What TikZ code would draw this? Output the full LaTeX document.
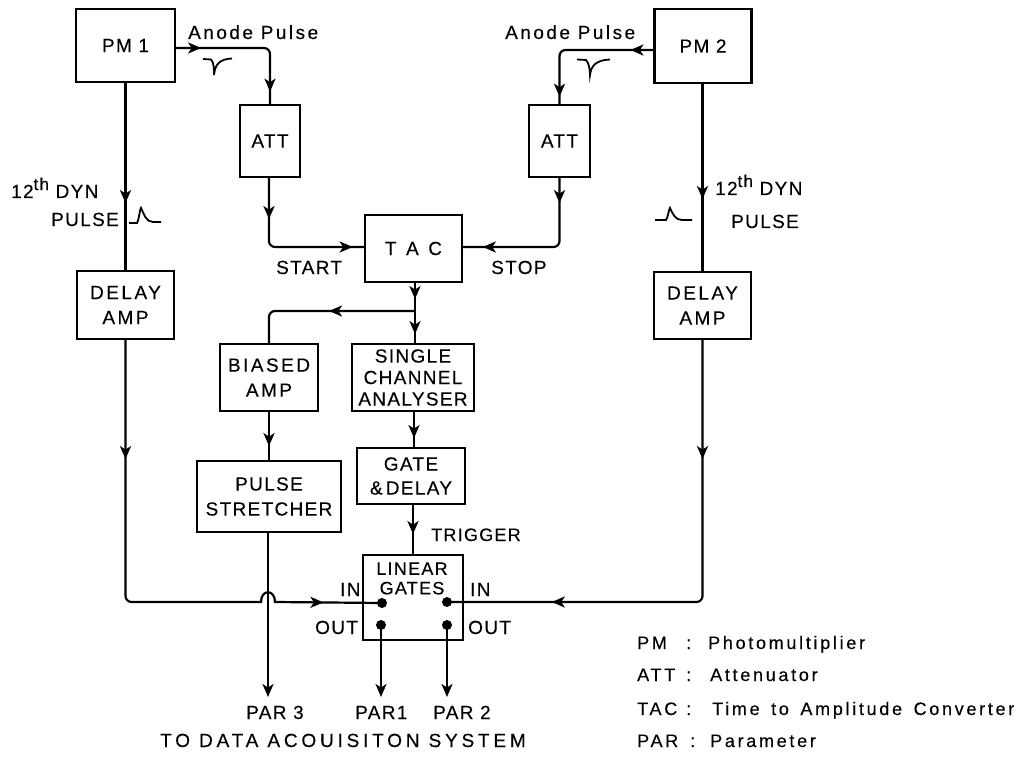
\documentclass[tikz,border=0pt]{standalone}
\usepackage{fontspec}
\setmainfont{Liberation Sans}[LetterSpace=7,FakeBold=0.25]
\newfontfamily\widefont{Liberation Sans}[LetterSpace=13,FakeBold=0.25]
\newfontfamily\xwidefont{Liberation Sans}[LetterSpace=20,FakeBold=0.25]
\newfontfamily\legendfont{Liberation Sans}[LetterSpace=15,WordSpace=1.5,FakeBold=0.25]
\usetikzlibrary{arrows.meta,decorations.markings}
\tikzset{
  x=1pt,y=-1pt,
  mytip/.tip={Stealth[length=13pt,width=11pt,inset=3.5pt]},
  box/.style={draw,line width=2.2pt,inner sep=0pt,align=center,
    font=\fontsize{19}{25}\selectfont},
  lab/.style={inner sep=0pt,anchor=base west,font=\fontsize{19}{20}\selectfont},
  leg/.style={inner sep=0pt,anchor=base west,font=\legendfont\fontsize{18}{20}\selectfont},
  wire/.style={line width=2.2pt,rounded corners=6pt},
  tipat/.style={postaction={decorate,decoration={markings,mark=at position #1 with {\arrow{mytip}}}}},
  pulse/.style={line width=1.8pt},
  dot/.style={circle,fill=black,inner sep=0pt,minimum size=10pt},
}
\begin{document}
\begin{tikzpicture}
\useasboundingbox (0,0) rectangle (1021,757);
% boxes
\node[box,minimum width=99pt,minimum height=73pt] (pm1) at (125.5,45.5) {PM 1};
\node[box,minimum width=60pt,minimum height=72pt] (att1) at (270,141) {ATT};
\node[box,minimum width=97pt,minimum height=74pt] (pm2) at (703,46) {PM 2};
\node[box,minimum width=61pt,minimum height=72pt] (att2) at (559.5,141) {ATT};
\node[box,minimum width=97pt,minimum height=67pt] (tac) at (413.5,248.5) {T\,\,\,A\,\,\,C};
\node[box,minimum width=97pt,minimum height=68pt,font=\widefont\fontsize{19}{25}\selectfont] (del1) at (125.5,305) {DELAY\\AMP};
\node[box,minimum width=97pt,minimum height=67pt,font=\widefont\fontsize{19}{25}\selectfont] (del2) at (702.5,305.5) {DELAY\\AMP};
\node[box,minimum width=98pt,minimum height=67pt,font=\widefont\fontsize{19}{25}\selectfont] (bia) at (269,377.5) {BIASED\\AMP};
\node[box,minimum width=122pt,minimum height=67pt,font=\fontsize{19}{21.5}\selectfont] (sca) at (413,377.5) {SINGLE\\CHANNEL\\ANALYSER};
\node[box,minimum width=108pt,minimum height=56pt,font=\fontsize{19}{24}\selectfont] (gate) at (411,476) {GATE\\\&\,DELAY};
\node[box,minimum width=144pt,minimum height=71pt] (str) at (269,496.5) {PULSE\\STRETCHER};
\node[box,minimum width=100pt,minimum height=85pt] (lin) at (413,597.5) {};
\node[inner sep=0pt,align=center,font=\fontsize{18}{19.5}\selectfont] (lintxt) at (412,578.5) {LINEAR\\GATES};
% dots
\node[dot] (in1) at (382,603) {};
\node[dot] (in2) at (447,602) {};
\node[dot,minimum size=10pt] (out1) at (381,625) {};
\node[dot,minimum size=10pt] (out2) at (447,625) {};
\coordinate (par3) at (268,697);
\coordinate (par1) at (381,697);
\coordinate (par2) at (447,697);
\coordinate (branch) at (415,311);
% connectors
\draw[wire,tipat=25pt,tipat=135pt] ([yshift=-2.5pt]pm1.east) -- (att1.north |- 0,48) -- (att1.north);
\draw[wire,tipat=41pt,tipat=150pt] ([xshift=-1pt]att1.south) -- (269,247) -- ([yshift=1.5pt]tac.west);
\draw[wire,tipat=23pt,tipat=138pt] ([yshift=-4pt]pm2.west) -- (att2.north |- 0,50) -- (att2.north);
\draw[wire,tipat=25pt,tipat=143pt] (att2.south) -- (559.5,247) -- ([yshift=1.5pt]tac.east);
\draw[wire,tipat=120pt] (pm1.south) -- (del1.north);
\draw[wire,tipat=115pt] ([xshift=-.5pt]pm2.south) -- (del2.north);
\draw[wire,tipat=119pt,tipat=470pt] (del1.south) -- (125.5,602) -- (255,602)
   {[sharp corners] -- (261,602) .. controls (261,589) and (275,589) .. (275,602)} -- (in1.center);
\draw[wire,tipat=119pt,tipat=410pt] (del2.south) -- (702.5,602) -- (in2.center);
\draw[wire,tipat=16pt,tipat=51pt] ([xshift=1.5pt]tac.south) -- ([xshift=2pt]sca.north);
\draw[wire,tipat=86pt] (branch) -- (bia.north |- branch) -- (bia.north);
\draw[wire,tipat=34pt] (bia.south) -- (str.north);
\draw[wire,tipat=26pt] ([xshift=1pt]sca.south) -- ([xshift=3pt]gate.north);
\draw[wire,tipat=29pt] ([xshift=2pt]gate.south) -- (lin.north);
\draw[wire,-mytip] ([xshift=-1pt]str.south) -- (par3);
\draw[wire,-mytip] (out1.center) -- (par1);
\draw[wire,-mytip] (out2.center) -- (par2);
% pulses
\draw[pulse] (203,59) -- (211,59.5) .. controls (214,62) and (214,70) .. (214,75) .. controls (215,65) and (219,59) .. (232,58.5);
\draw[pulse] (577,59.5) -- (586,60) .. controls (589,63) and (590,70) .. (590,75) .. controls (591,66) and (596,60) .. (610,59.5);
\draw[pulse] (129,223) -- (137,223) .. controls (139,220) and (140,208) .. (141,208) .. controls (144,214) and (146,222) .. (153,222) -- (161,222);
\draw[pulse] (655,220) -- (666,220) .. controls (668,218) and (669,208) .. (670,208) .. controls (673,214) and (675,220) .. (682,220) -- (692,220);
% labels
\node[lab,font=\widefont\fontsize{19}{20}\selectfont] (lbl1) at (188,39) {Anode Pulse};
\node[lab,font=\widefont\fontsize{19}{20}\selectfont] (lbl2) at (505,39) {Anode Pulse};
\node[lab] (lbl3) at (11,198) {12\raisebox{8pt}{\fontsize{17}{17}\selectfont th} DYN};
\node[lab] (lbl4) at (51,226) {PULSE};
\node[lab] (lbl5) at (715,195) {12\raisebox{8pt}{\fontsize{17}{17}\selectfont th} DYN};
\node[lab] (lbl6) at (731,228) {PULSE};
\node[lab] (lbl7) at (276,274) {START};
\node[lab] (lbl8) at (491,274) {STOP};
\node[lab,font=\fontsize{18}{20}\selectfont] (lbl9) at (431,541) {TRIGGER};
\node[lab] (lbl10) at (340,596) {IN};
\node[lab] (lbl11) at (470,596) {IN};
\node[lab] (lbl12) at (315,634) {OUT};
\node[lab] (lbl13) at (468,634) {OUT};
\node[lab] (lbl14) at (246,719) {PAR 3};
\node[lab] (lbl15) at (355,719) {PAR1};
\node[lab] (lbl16) at (433,719) {PAR 2};
\node[lab,font=\xwidefont\fontsize{19}{20}\selectfont] (lbl17) at (160,747) {TO DATA ACOUISITON SYSTEM};
% legend
\node[leg] (k1) at (637,649) {PM};
\node[leg] (k1c) at (686,649) {:};
\node[leg] (k1t) at (708,649) {Photomultiplier};
\node[leg] (k2) at (637,681) {ATT};
\node[leg] (k2c) at (686,681) {:};
\node[leg] (k2t) at (710,681) {Attenuator};
\node[leg] (k3) at (637,715) {TAC};
\node[leg] (k3c) at (686,715) {:};
\node[leg] (k3t) at (712,715) {Time to Amplitude Converter};
\node[leg] (k4) at (637,747) {PAR};
\node[leg] (k4c) at (690,747) {:};
\node[leg] (k4t) at (710,747) {Parameter};
\end{tikzpicture}
\end{document}
